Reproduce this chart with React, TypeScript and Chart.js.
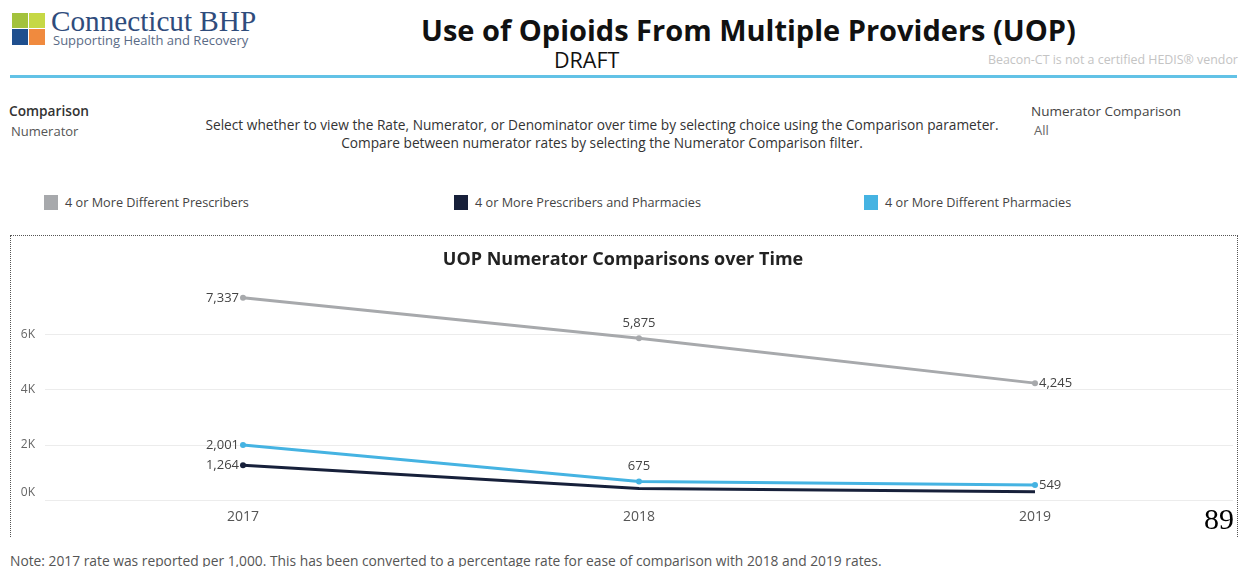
import React, { useEffect, useRef } from "react";
import { Chart, registerables } from "chart.js";

Chart.register(...registerables);

const years = ["2017", "2018", "2019"];
const prescribers = [7337, 5875, 4245];
const prescribersAndPharmacies = [1264, 420, 310];
const pharmacies = [2001, 675, 549];
const prescribersLabels = [true, true, true];
const bothLabels = [true, false, false];
const pharmaciesLabels = [true, true, true];
const yTicks = [0, 2000, 4000, 6000];
const yTickLabels = ["0K", "2K", "4K", "6K"];

const seriesNames = [
  "4 or More Different Prescribers",
  "4 or More Prescribers and Pharmacies",
  "4 or More Different Pharmacies",
];
const seriesColors = ["#a7a9ac", "#17203a", "#45b3e2"];

const FONT = "'Open Sans', 'Noto Sans', sans-serif";

const labelPlugin = {
  id: "pointLabels",
  afterDatasetsDraw(chart: any) {
    const ctx = chart.ctx;
    ctx.save();
    // y-axis labels (kept inside the plot, like the original)
    const ys = chart.scales.y;
    ctx.font = `12px ${FONT}`;
    ctx.fillStyle = "#666";
    ctx.textAlign = "right";
    ctx.textBaseline = "middle";
    yTicks.forEach((v, i) => {
      const py = Math.min(ys.getPixelForValue(v), chart.chartArea.bottom - 8);
      ctx.fillText(yTickLabels[i], chart.chartArea.left - 10, py);
    });
    // point labels
    ctx.font = `13px ${FONT}`;
    ctx.fillStyle = "#444";
    chart.data.datasets.forEach((ds: any, di: number) => {
      const meta = chart.getDatasetMeta(di);
      const mask: boolean[] = ds.labelMask;
      meta.data.forEach((pt: any, i: number) => {
        if (!mask[i]) return;
        const txt = Number(ds.data[i]).toLocaleString("en-US");
        ctx.textBaseline = "middle";
        if (i === 0) {
          ctx.textAlign = "right";
          ctx.fillText(txt, pt.x - 4, pt.y);
        } else if (i === ds.data.length - 1) {
          ctx.textAlign = "left";
          ctx.fillText(txt, pt.x + 4, pt.y);
        } else {
          ctx.textAlign = "center";
          ctx.fillText(txt, pt.x, pt.y - 15);
        }
      });
    });
    ctx.restore();
  },
};

function LineChart() {
  const ref = useRef<HTMLCanvasElement>(null);
  useEffect(() => {
    if (!ref.current) return;
    const mk = (data: number[], color: string, mask: boolean[], label: string) => ({
      label,
      data,
      borderColor: color,
      backgroundColor: color,
      borderWidth: 3,
      pointRadius: mask.map((m) => (m ? 3 : 0)),
      pointBorderWidth: 0,
      tension: 0,
      labelMask: mask,
    });
    const chart = new Chart(ref.current, {
      type: "line",
      data: {
        labels: years,
        datasets: [
          mk(pharmacies, seriesColors[2], pharmaciesLabels, seriesNames[2]),
          mk(prescribersAndPharmacies, seriesColors[1], bothLabels, seriesNames[1]),
          mk(prescribers, seriesColors[0], prescribersLabels, seriesNames[0]),
        ] as any,
      },
      options: {
        animation: false,
        responsive: false,
        maintainAspectRatio: false,
        layout: { padding: { left: 0, right: 2, top: 0, bottom: 3 } },
        plugins: {
          legend: { display: false },
          tooltip: { enabled: false },
          title: {
            display: true,
            text: "UOP Numerator Comparisons over Time",
            color: "#222",
            font: { family: FONT, size: 18, weight: "bold" },
            padding: { top: 13, bottom: 20 },
          },
        },
        scales: {
          x: {
            offset: true,
            grid: { display: false, drawTicks: false },
            border: { display: false },
            ticks: { color: "#555", font: { family: FONT, size: 14 }, padding: 8 },
          },
          y: {
            min: 0,
            max: 7600,
            grid: { color: "#ececec", drawTicks: false },
            border: { display: false },
            afterBuildTicks: (s: any) => {
              s.ticks = yTicks.map((v) => ({ value: v }));
            },
            afterFit: (s: any) => {
              s.width = 34;
            },
            ticks: { display: false },
          },
        },
      },
      plugins: [labelPlugin],
    });
    return () => chart.destroy();
  }, []);
  return <canvas ref={ref} width={1226} height={300} style={{ position: "absolute", left: 0, top: 0 }} />;
}

const abs = (l: number, t: number, extra: React.CSSProperties = {}): React.CSSProperties => ({
  position: "absolute",
  left: l,
  top: t,
  whiteSpace: "nowrap",
  ...extra,
});

export default function App() {
  return (
    <div style={{ position: "absolute", left: 0, top: 0, width: 1247, height: 567, background: "#fff", fontFamily: FONT, overflow: "hidden" }}>
      {/* logo */}
      <div style={abs(12, 13, { width: 16, height: 15, background: "#a3c23c" })} />
      <div style={abs(29, 13, { width: 16, height: 15, background: "#c6d845" })} />
      <div style={abs(12, 29, { width: 16, height: 16, background: "#1f4f8e" })} />
      <div style={abs(29, 29, { width: 16, height: 16, background: "#f08a3e" })} />
      <div style={abs(51, 5, { fontFamily: "'Liberation Serif', 'DejaVu Serif', serif", fontSize: 29.2, color: "#2f4c7c", lineHeight: "32px" })}>Connecticut BHP</div>
      <div style={abs(53, 32, { fontSize: 13, color: "#5a6b86", lineHeight: "16px" })}>Supporting Health and Recovery</div>

      {/* title */}
      <div style={abs(421, 10, { fontSize: 29, fontWeight: 700, color: "#111", lineHeight: "40px" })}>
        Use of Opioids From Multiple Providers (UOP)
      </div>
      <div style={abs(554, 47, { fontSize: 21.5, color: "#111", lineHeight: "26px" })}>DRAFT</div>
      <div style={abs(988, 52, { fontSize: 12.4, color: "#c4c4c4", lineHeight: "16px" })}>Beacon-CT is not a certified HEDIS® vendor</div>
      <div style={abs(10, 75, { width: 1227, height: 3, background: "#62c2e6" })} />

      {/* parameters */}
      <div style={abs(9, 101, { fontSize: 13.7, fontWeight: 600, color: "#333", lineHeight: "20px" })}>Comparison</div>
      <div style={abs(11, 122, { fontSize: 13, color: "#555", lineHeight: "18px" })}>Numerator</div>
      <div style={abs(100, 116, { width: 1004, textAlign: "center", fontSize: 13.7, color: "#333", lineHeight: "18px" })}>
        Select whether to view the Rate, Numerator, or Denominator over time by selecting choice using the Comparison parameter.
        <br />
        Compare between numerator rates by selecting the Numerator Comparison filter.
      </div>
      <div style={abs(1031, 101, { fontSize: 13.5, color: "#444", lineHeight: "20px" })}>Numerator Comparison</div>
      <div style={abs(1034, 121, { fontSize: 13, color: "#666", lineHeight: "18px" })}>All</div>

      {/* legend */}
      {[44, 454, 864].map((x, i) => (
        <React.Fragment key={i}>
          <div style={abs(x, 195, { width: 14, height: 15, background: seriesColors[i] })} />
          <div style={abs(x + 21, 193, { fontSize: 12.7, color: "#444", lineHeight: "18px" })}>{seriesNames[i]}</div>
        </React.Fragment>
      ))}

      {/* chart box */}
      <div style={abs(10, 235, { width: 1226, height: 301, borderTop: "1px dotted #555", borderLeft: "1px dotted #555", borderRight: "1px dotted #555" })}>
        <LineChart />
      </div>

      <div style={abs(1204, 500, { fontFamily: "'Liberation Serif', serif", fontSize: 30, color: "#000", lineHeight: "38px" })}>89</div>

      <div style={abs(10, 552, { fontSize: 13.8, color: "#555", lineHeight: "18px" })}>
        Note: 2017 rate was reported per 1,000. This has been converted to a percentage rate for ease of comparison with 2018 and 2019 rates.
      </div>
    </div>
  );
}
